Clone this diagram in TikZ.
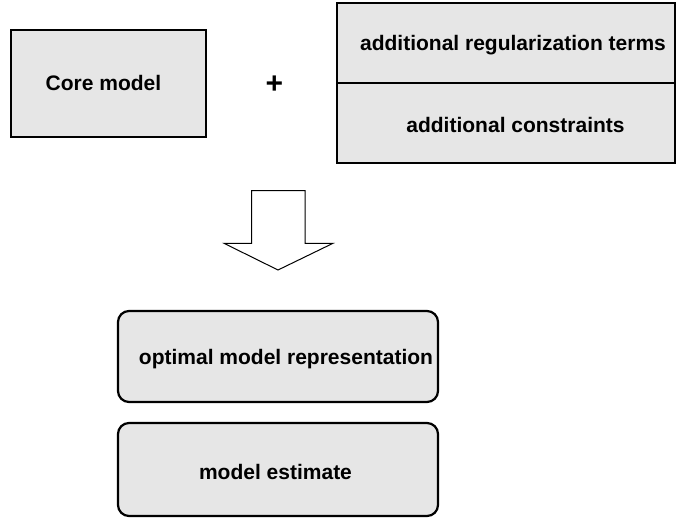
\documentclass[tikz,border=0pt]{standalone}
\usepackage{fontspec}
\setmainfont{Liberation Sans}
\begin{document}
\begin{tikzpicture}[x=1pt,y=-1pt,
  boxline/.style={draw=black,line width=2.2pt,fill=boxgrey},
  label/.style={font=\fontsize{21}{24}\selectfont\bfseries,inner sep=0pt,anchor=base}]
\definecolor{boxgrey}{RGB}{230,230,230}
\useasboundingbox (0,0) rectangle (676,521);

% core model
\node[boxline,minimum width=195pt,minimum height=107pt,inner sep=0pt] (core) at (108.5,83.5) {};
\node[label] (coretxt) at (103.5,91) {Core model};

% plus sign
\node[font=\fontsize{30}{32}\selectfont\bfseries,inner sep=0pt] (plus) at (274.5,84.5) {+};

% two-part add-on box
\node[boxline,minimum width=338pt,minimum height=80pt,inner sep=0pt] (reg) at (506,43) {};
\node[boxline,minimum width=338pt,minimum height=80pt,inner sep=0pt] (con) at (506,123) {};
\node[label] (regtxt) at (513,51) {additional regularization terms};
\node[label] (contxt) at (515.5,133) {additional constraints};

% block arrow pointing down
\coordinate (atop) at (278,190.7);
\draw[line width=1pt,fill=white] (251.7,190.7) -- (305,190.7) -- (305,243.3) -- (333,243.3)
  -- (278,270) -- (224,243.3) -- (251.7,243.3) -- cycle;

% results
\node[boxline,rounded corners=11pt,minimum width=320pt,minimum height=91pt,inner sep=0pt] (opt) at (278,356.5) {};
\node[label] (opttxt) at (286,364.5) {optimal model representation};
\node[boxline,rounded corners=11pt,minimum width=320pt,minimum height=93pt,inner sep=0pt] (est) at (278,469.5) {};
\node[label] (esttxt) at (275.5,479.5) {model estimate};
\end{tikzpicture}
\end{document}
